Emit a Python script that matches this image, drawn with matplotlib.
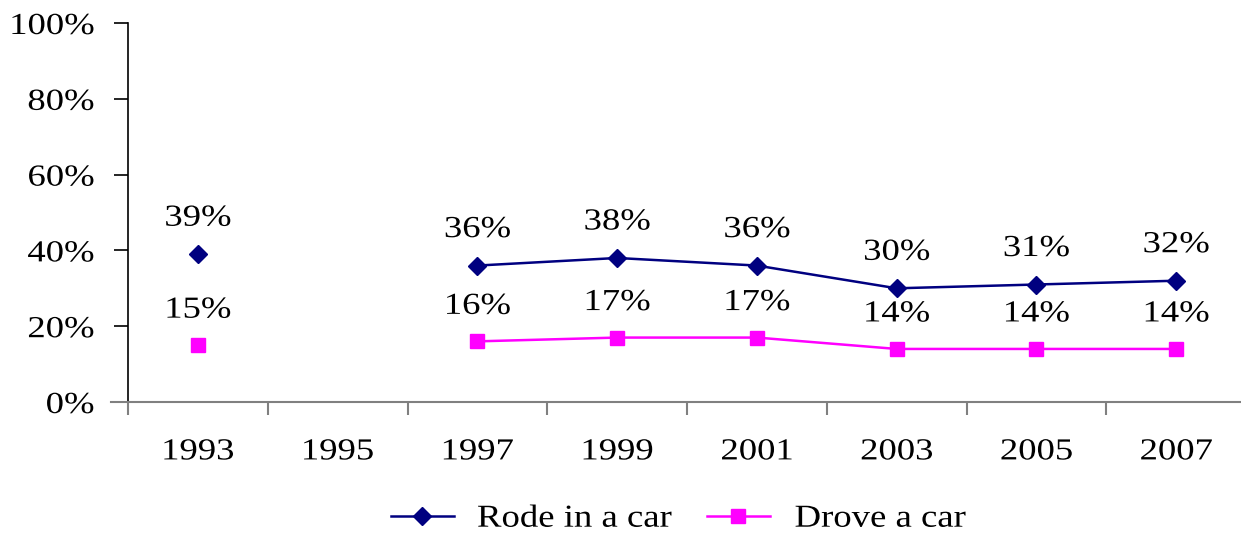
import matplotlib
matplotlib.use("Agg")
import matplotlib.pyplot as plt
import numpy as np
from matplotlib.patheffects import AbstractPathEffect
from matplotlib.transforms import Affine2D

years = ["1993", "1995", "1997", "1999", "2001", "2003", "2005", "2007"]
rode = [39, None, 36, 38, 36, 30, 31, 32]
drove = [15, None, 16, 17, 17, 14, 14, 14]
y_ticks = [0, 20, 40, 60, 80, 100]

plt.rcParams['font.family'] = ['Liberation Serif', 'DejaVu Serif']


class Stretch(AbstractPathEffect):
    """Horizontally widen text glyphs about an anchor (left/center/right)."""
    def __init__(self, sx=1.2, anchor="center"):
        super().__init__()
        self.sx = sx
        self.anchor = anchor

    def draw_path(self, renderer, gc, tpath, affine, rgbFace=None):
        ext = tpath.get_extents(affine)
        if self.anchor == "center":
            a = (ext.x0 + ext.x1) / 2
        elif self.anchor == "right":
            a = ext.x1
        else:
            a = ext.x0
        t = affine + Affine2D().translate(-a, 0).scale(self.sx, 1).translate(a, 0)
        renderer.draw_path(gc, tpath, t, rgbFace)


W, H = 1241, 537
fig = plt.figure(figsize=(W / 100, H / 100), dpi=100)
ax = fig.add_axes([128 / W, (H - 402) / H, 1118 / W, 379 / H])

x = np.arange(len(years))
r = np.array([np.nan if v is None else v for v in rode], dtype=float)
d = np.array([np.nan if v is None else v for v in drove], dtype=float)

ax.plot(x, r, color="#000080", lw=1.8, marker="D", ms=9.5, mfc="#000080",
        mec="#000080", label="Rode in a car", clip_on=False)
ax.plot(x, d, color="#FF00FF", lw=1.8, marker="s", ms=10.5, mfc="#FF00FF",
        mec="#FF00FF", label="Drove a car", clip_on=False)

fs = 22
SX = 1.2
for xi, v in zip(x, rode):
    if v is not None:
        ax.annotate(f"{v}%", (xi, v), xytext=(0, 36), textcoords="offset pixels",
                    ha="center", va="center", fontsize=fs,
                    path_effects=[Stretch(SX, "center")])
for xi, v in zip(x, drove):
    if v is not None:
        ax.annotate(f"{v}%", (xi, v), xytext=(0, 35), textcoords="offset pixels",
                    ha="center", va="center", fontsize=fs,
                    path_effects=[Stretch(SX, "center")])

ax.set_xlim(-0.5, 7.5)
ax.set_ylim(0, 100)
ax.set_yticks(y_ticks)
ylabels = ax.set_yticklabels([f"{t}%" for t in y_ticks], fontsize=fs)
ax.set_xticks(x)
xlabels = ax.set_xticklabels(years, fontsize=fs)
for t in ylabels:
    t.set_path_effects([Stretch(SX, "right")])
for t in xlabels:
    t.set_path_effects([Stretch(SX, "center")])
ax.set_xticks(np.arange(-0.5, 7.6, 1), minor=True)
ax.tick_params(axis="x", which="major", length=0, pad=25.5)
ax.tick_params(axis="x", which="minor", length=9, color="#808080", width=1.5)
ax.tick_params(axis="y", length=10, width=1.2, color="black", pad=14.5)

for s in ["top", "right"]:
    ax.spines[s].set_visible(False)
ax.spines["left"].set_color("black")
ax.spines["left"].set_linewidth(1.2)
ax.spines["bottom"].set_color("#808080")
ax.spines["bottom"].set_linewidth(1.5)
ax.spines["bottom"].set_bounds(-0.62, 7.5)

lfs = 23
leg = fig.legend(loc="center", bbox_to_anchor=(673 / W, 1 - 519 / H), ncol=2,
                 frameon=False, fontsize=lfs, handlelength=1.975, handletextpad=1.12,
                 columnspacing=1.48, borderpad=0.1)
for t in leg.get_texts():
    t.set_path_effects([Stretch(1.15, "center")])

fig.savefig("out.png", dpi=100)
